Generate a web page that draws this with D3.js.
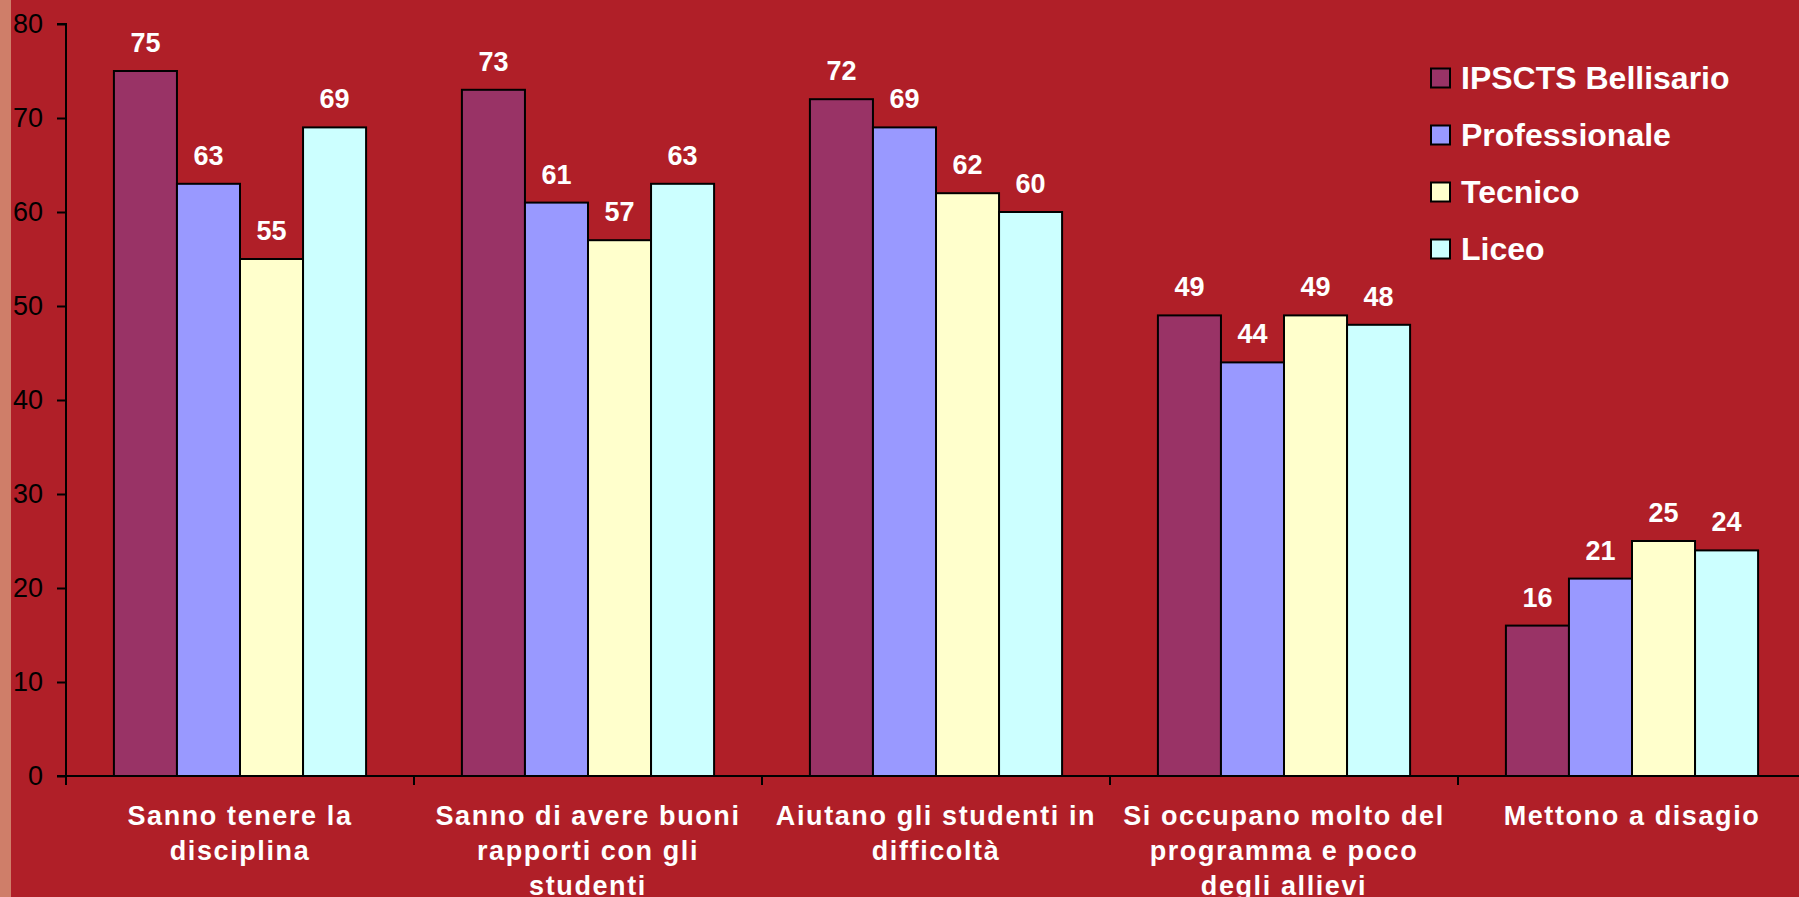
<!DOCTYPE html>
<html><head><meta charset="utf-8">
<script src="https://cdn.jsdelivr.net/npm/d3@7"></script>
<style>
html,body{margin:0;padding:0;background:#B01F28;overflow:hidden;}
svg{display:block;}
text{font-family:"Liberation Sans",Arial,sans-serif;}
</style></head>
<body>
<script>
const categories = [
  "Sanno tenere la\ndisciplina",
  "Sanno di avere buoni\nrapporti con gli\nstudenti",
  "Aiutano gli studenti in\ndifficoltà",
  "Si occupano molto del\nprogramma e poco\ndegli allievi",
  "Mettono a disagio"
];
const seriesNames = ["IPSCTS Bellisario", "Professionale", "Tecnico", "Liceo"];
const bellisario   = [75, 73, 72, 49, 16];
const professionale = [63, 61, 69, 44, 21];
const tecnico      = [55, 57, 62, 49, 25];
const liceo        = [69, 63, 60, 48, 24];
const yTicks = [0, 10, 20, 30, 40, 50, 60, 70, 80];
const colors = ["#993366", "#9999FF", "#FFFFCC", "#CCFFFF"];

(function () {
const seriesValues = [bellisario, professionale, tecnico, liceo];
const W = 1799, H = 897;
const svg = d3.select("body").append("svg").attr("width", W).attr("height", H);

svg.append("rect").attr("x",0).attr("y",0).attr("width",W).attr("height",H).attr("fill","#B01F28");
svg.append("rect").attr("x",0).attr("y",0).attr("width",11).attr("height",H).attr("fill","#CF7E69");

const pLeft = 66, pRight = 1806, pTop = 24, pBottom = 776;
const x = d3.scaleBand().domain(d3.range(categories.length)).range([pLeft, pRight]).paddingInner(0).paddingOuter(0);
const inner = d3.scaleBand().domain(d3.range(seriesNames.length)).range([0, x.bandwidth()]).paddingOuter(0.76).paddingInner(0);
const y = d3.scaleLinear().domain([0, 80]).range([pBottom, pTop]);

// bars
seriesNames.forEach((s, si) => {
  const g = svg.append("g");
  g.selectAll("rect").data(seriesValues[si]).join("rect")
    .attr("x", (d, i) => x(i) + inner(si))
    .attr("y", d => y(d))
    .attr("width", inner.bandwidth())
    .attr("height", d => y(0) - y(d))
    .attr("fill", colors[si])
    .attr("stroke", "#000").attr("stroke-width", 2);
  g.selectAll("text").data(seriesValues[si]).join("text")
    .attr("x", (d, i) => x(i) + inner(si) + inner.bandwidth() / 2)
    .attr("y", d => y(d) - 19)
    .attr("text-anchor", "middle")
    .attr("fill", "#fff").attr("font-weight", "bold").attr("font-size", 27)
    .text(d => d);
});

// y axis
const yAxis = d3.axisLeft(y).tickValues(yTicks).tickSize(9).tickPadding(14);
const ya = svg.append("g").attr("transform", `translate(${pLeft},0)`).call(yAxis);
ya.select(".domain").attr("stroke", "#000").attr("stroke-width", 2).attr("d", `M-9,${pTop}H0V${pBottom}`);
ya.selectAll(".tick line").attr("stroke", "#000").attr("stroke-width", 2);
ya.selectAll(".tick text").attr("fill", "#000").attr("font-size", 27).attr("font-family", "'Liberation Sans',Arial,sans-serif");

// x axis
svg.append("line").attr("x1", pLeft - 9).attr("x2", W).attr("y1", pBottom).attr("y2", pBottom)
  .attr("stroke", "#000").attr("stroke-width", 2);
svg.selectAll(".xtick").data(d3.range(categories.length)).join("line")
  .attr("x1", i => x(i)).attr("x2", i => x(i))
  .attr("y1", pBottom).attr("y2", pBottom + 9)
  .attr("stroke", "#000").attr("stroke-width", 2);

// category labels
categories.forEach((c, i) => {
  const t = svg.append("text")
    .attr("text-anchor", "middle")
    .attr("fill", "#fff").attr("font-weight", "bold").attr("font-size", 27)
    .attr("letter-spacing", 1.6);
  c.split("\n").forEach((line, li) => {
    t.append("tspan").attr("x", x(i) + x.bandwidth() / 2).attr("y", 825 + li * 35).text(line);
  });
});

// legend
const lg = svg.append("g");
seriesNames.forEach((s, si) => {
  const cy = 78 + si * 57;
  lg.append("rect").attr("x", 1431).attr("y", cy - 9.5).attr("width", 19).attr("height", 19)
    .attr("fill", colors[si]).attr("stroke", "#000").attr("stroke-width", 2);
  lg.append("text").attr("x", 1461).attr("y", cy + 11)
    .attr("fill", "#fff").attr("font-weight", "bold").attr("font-size", 32)
    .text(s);
});
})();
</script>
</body></html>
